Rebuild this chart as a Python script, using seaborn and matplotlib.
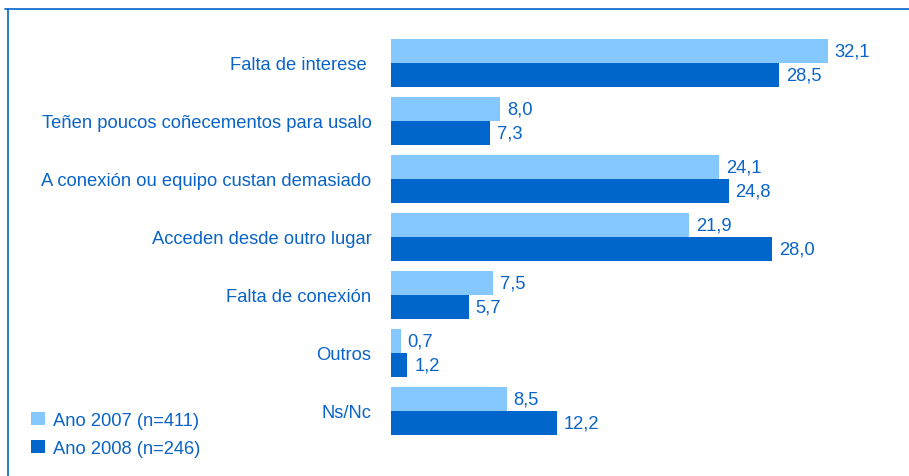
import matplotlib
matplotlib.use("Agg")
import matplotlib.pyplot as plt
import seaborn as sns
import pandas as pd
from matplotlib.lines import Line2D
from matplotlib.patches import Patch

# Datos
categorias = [
    "Falta de interese ",
    "Teñen poucos coñecementos para usalo",
    "A conexión ou equipo custan demasiado",
    "Acceden desde outro lugar",
    "Falta de conexión",
    "Outros",
    "Ns/Nc",
]
anos = ["Ano 2007 (n=411)", "Ano 2008 (n=246)"]
valores_2007 = [32.1, 8.0, 24.1, 21.9, 7.5, 0.7, 8.5]
valores_2008 = [28.5, 7.3, 24.8, 28.0, 5.7, 1.2, 12.2]

cor_clara = "#85C8FF"
cor_escura = "#0066CC"
cor_texto = "#0A64C8"

df = pd.DataFrame({
    "categoria": categorias * 2,
    "valor": valores_2007 + valores_2008,
    "ano": [anos[0]] * len(categorias) + [anos[1]] * len(categorias),
})

sns.set_style("white")
plt.rcParams["font.family"] = ["Liberation Sans", "DejaVu Sans"]

fig = plt.figure(figsize=(9.09, 4.77), dpi=100)
ax = fig.add_axes([391 / 909, 1 - 441 / 477, 518 / 909, 406 / 477])

sns.barplot(data=df, y="categoria", x="valor", hue="ano", orient="h",
            palette=[cor_clara, cor_escura], width=0.83, saturation=1,
            linewidth=0, ax=ax, legend=False)

ax.set_xlim(0, 518 / 13.61)
ax.set_ylim(6.5, -0.5)
ax.set_xlabel("")
ax.set_ylabel("")
ax.set_xticks([])
for s in ax.spines.values():
    s.set_visible(False)
ax.tick_params(axis="y", length=0, pad=14, labelsize=13.2, labelcolor=cor_texto)

for cont in ax.containers:
    ax.bar_label(cont, labels=[f"{v:.1f}".replace(".", ",") for v in cont.datavalues],
                 padding=5, fontsize=13.2, color=cor_texto)

# Lenda
handles = [Patch(facecolor=cor_clara, edgecolor="none"),
           Patch(facecolor=cor_escura, edgecolor="none")]
fig.legend(handles, anos, loc="upper left", bbox_to_anchor=(15 / 909, 1 - 396 / 477),
           frameon=False, fontsize=13.2, labelcolor=cor_texto, handlelength=0.75,
           handleheight=0.75, handletextpad=0.45, labelspacing=0.6)

# Marco
fig.add_artist(Line2D([5 / 909, 1], [1 - 10 / 477, 1 - 10 / 477], color=cor_escura, lw=1.2))
fig.add_artist(Line2D([8 / 909, 8 / 909], [0, 1 - 10 / 477], color=cor_escura, lw=1.2))

fig.savefig("out.png", dpi=100)
